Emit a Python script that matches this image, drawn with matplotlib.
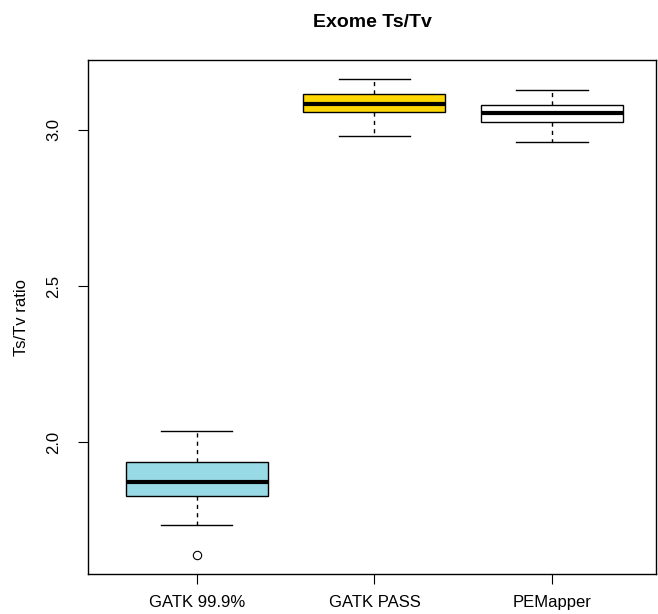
import matplotlib
matplotlib.use('Agg')
from matplotlib import pyplot as plt

plt.rcParams['font.family'] = ['Liberation Sans', 'DejaVu Sans']

labels = ['GATK 99.9%', 'GATK PASS', 'PEMapper']
whislo = [1.734, 2.981, 2.962]
q1 = [1.827, 3.058, 3.026]
med = [1.872, 3.083, 3.054]
q3 = [1.936, 3.115, 3.080]
whishi = [2.035, 3.163, 3.128]
fliers = [[1.638], [], []]
colors = ['#98dae5', '#ffd700', '#ffffff']

stats = []
for i in range(len(labels)):
    stats.append(dict(label=labels[i], whislo=whislo[i], q1=q1[i], med=med[i],
                      q3=q3[i], whishi=whishi[i], fliers=fliers[i]))

fig = plt.figure(figsize=(6.58, 6.14), dpi=100)
ax = fig.add_axes([0.1337, 0.0651, 0.8633, 0.8372])

bp = ax.bxp(stats, positions=[1, 2, 3], widths=0.8, patch_artist=True,
            boxprops=dict(edgecolor='black', linewidth=1),
            medianprops=dict(color='black', linewidth=3),
            whiskerprops=dict(color='black', linewidth=1, linestyle=(0, (3, 3))),
            capprops=dict(color='black', linewidth=1),
            capwidths=0.4,
            flierprops=dict(marker='o', markerfacecolor='none',
                            markeredgecolor='black', markersize=6,
                            markeredgewidth=0.8))
for patch, c in zip(bp['boxes'], colors):
    patch.set_facecolor(c)

ax.set_xlim(0.386, 3.586)
ax.set_ylim(1.577, 3.224)
ax.set_yticks([2.0, 2.5, 3.0])
ax.set_yticklabels(['2.0', '2.5', '3.0'], rotation=90, va='center')
ax.tick_params(labelsize=12, length=7)
ax.tick_params(axis='x', pad=8)
ax.tick_params(axis='y', pad=12)
ax.set_ylabel('Ts/Tv ratio', fontsize=12, labelpad=13)
ax.set_title('Exome Ts/Tv', fontsize=14, fontweight='bold', pad=24)
for s in ax.spines.values():
    s.set_linewidth(1)

fig.savefig('out.png', dpi=100)
